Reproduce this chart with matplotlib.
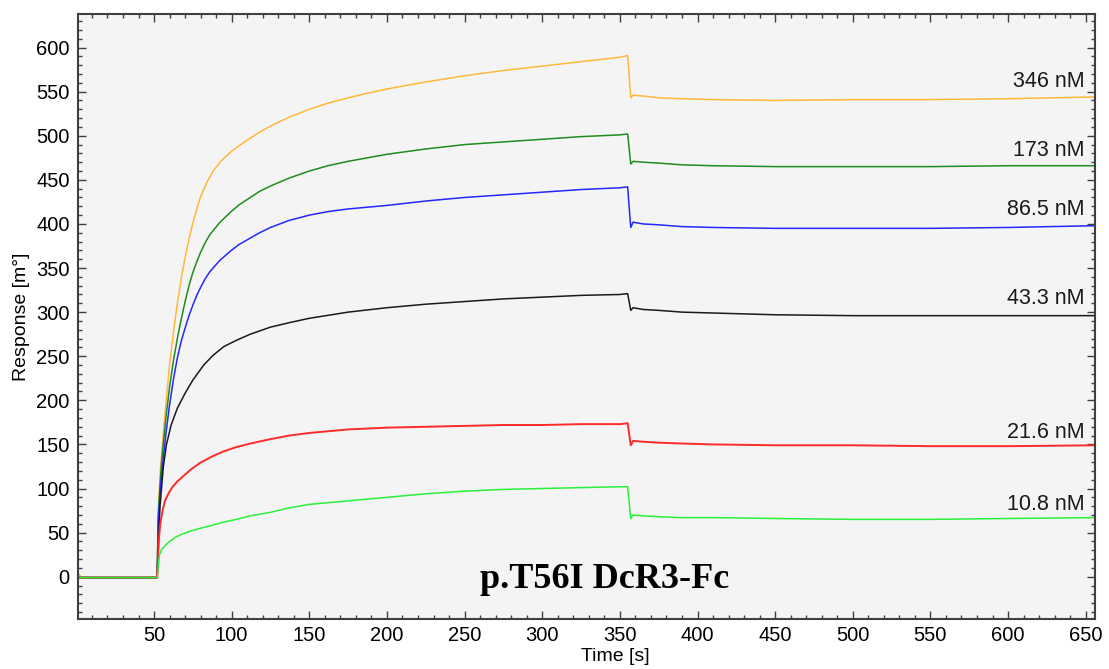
import matplotlib
matplotlib.use("Agg")
import matplotlib.pyplot as plt
from matplotlib.ticker import MultipleLocator

# Sensorgram traces: time [s] and response [m°] for each analyte concentration
t_346 = [1, 3, 8, 52.0, 52.7, 54, 56, 58, 60, 62.5, 65, 67.5, 70, 72.5, 75, 77.5, 80,
         84, 88, 93, 99, 105, 110, 117, 125, 137, 150, 162, 175, 187, 200, 225, 250,
         275, 300, 325, 350, 355, 357, 358.5, 365, 375, 390, 410, 450, 500, 550, 600,
         656]
r_346 = [5, -1, -1, -1, 72, 120, 163, 203, 240, 277, 310, 338, 362, 383, 401, 417, 431,
         447, 460, 471, 481, 489, 495, 503, 511, 521, 530, 537, 543, 548, 553, 561, 568,
         574, 579, 584, 589, 591, 543, 546, 545, 543, 542, 541, 540, 541, 541, 542,
         544]

t_173 = [1, 52.0, 52.7, 54, 55, 57.5, 60, 62.5, 65, 67.5, 70, 72.5, 75, 77.5, 80, 83,
         86, 92, 99, 105, 112, 118, 125, 137, 150, 162, 175, 200, 225, 250, 275, 300,
         325, 350, 355, 357, 358.5, 365, 375, 390, 410, 450, 500, 550, 600, 656]
r_173 = [-1, -1, 70, 108, 133, 178, 215, 245, 270, 292, 312, 330, 345, 357, 368, 379,
         388, 401, 413, 422, 430, 437, 443, 452, 460, 466, 471, 479, 485, 490, 493, 496,
         499, 501, 502, 468, 471, 470, 469, 467, 466, 465, 465, 465, 466, 466]

t_865 = [1, 52.0, 52.7, 54, 55, 57.5, 60, 62.5, 65, 67.5, 70, 72.5, 75, 77.5, 80, 83,
         86, 92, 99, 105, 112, 118, 125, 137, 150, 162, 175, 200, 225, 250, 275, 300,
         325, 350, 355, 357, 358.5, 365, 375, 390, 410, 450, 500, 550, 600, 656]
r_865 = [-1, -1, 60, 98, 118, 160, 195, 224, 248, 267, 282, 296, 308, 319, 328, 338,
         346, 358, 369, 377, 384, 390, 396, 404, 410, 414, 417, 421, 426, 430, 433, 436,
         439, 441, 442, 396, 402, 400, 399, 397, 396, 395, 395, 395, 396, 398]

t_433 = [1, 52.0, 52.8, 53.8, 56, 58, 61, 65, 70, 75, 82, 88, 95, 103, 112, 125,
         137, 150, 175, 200, 225, 250, 275, 300, 325, 350, 355, 357, 358.5, 365, 375,
         390, 410, 450, 500, 550, 600, 656]
r_433 = [-1, -1, 35, 79, 125, 150, 172, 191, 208, 223, 240, 251, 261, 268, 275, 283,
         288, 293, 300, 305, 309, 312, 315, 317, 319, 320, 321, 302, 305, 303, 302,
         300, 299, 297, 296, 296, 296, 296]

t_216 = [1, 52.0, 53, 54, 55.5, 57, 59.5, 62, 65, 68.8, 74, 79.6, 87, 94.6, 103, 112,
         125, 137, 150, 175, 200, 225, 250, 275, 300, 325, 350, 355, 357, 358.5, 365,
         375, 390, 410, 450, 500, 550, 600, 656]
r_216 = [-1, -1, 40, 60, 75, 86, 95, 102, 108, 114, 122, 129, 136, 142, 147, 151,
         156, 160, 163, 167, 169, 170, 171, 172, 172, 173, 173, 174, 149, 154, 153,
         152, 151, 150, 149, 149, 148, 148, 149]

t_108 = [1, 52.0, 52.7, 53.5, 55, 57.5, 60, 64, 69, 74, 80, 87, 95, 103, 112, 125,
         137, 150, 175, 200, 225, 250, 275, 300, 325, 350, 355, 357, 358.5, 365, 375,
         390, 410, 450, 500, 550, 600, 656]
r_108 = [-1, -1, 11, 25, 31, 36, 40, 45, 49, 52, 55, 58, 62, 65, 69, 73,
         78, 82, 86, 90, 94, 97, 99, 100, 101, 102, 102, 66, 70, 69, 68,
         67, 67, 66, 65, 65, 66, 67]

labels = ["346 nM", "173 nM", "86.5 nM", "43.3 nM", "21.6 nM", "10.8 nM"]
label_y = [561, 483, 416, 316, 164, 82]

series = [(t_346, r_346, "#ffb83d", 1.1),
          (t_173, r_173, "#1e8c1e", 1.1),
          (t_865, r_865, "#2626ff", 1.1),
          (t_433, r_433, "#1a1a1a", 1.1),
          (t_216, r_216, "#ff2a2a", 1.4),
          (t_108, r_108, "#2bf03a", 1.1)]

plt.rcParams["font.family"] = ["Liberation Sans", "DejaVu Sans"]

fig = plt.figure(figsize=(11.09, 6.69), dpi=100)
ax = fig.add_axes([0.0703, 0.0747, 0.9171, 0.9043])
ax.set_facecolor("#f4f4f4")

for t, r, c, w in series:
    ax.plot(t, r, color=c, lw=w, solid_joinstyle="round")

for text, y in zip(labels, label_y):
    ax.text(649, y, text, ha="right", va="center", fontsize=15.5, color="#1a1a1a")

ax.text(340, -3, "p.T56I DcR3-Fc", ha="center", va="center",
        fontsize=26, fontweight="bold", family="Liberation Serif", color="black")

ax.set_xlim(1, 656)
ax.set_ylim(-48, 638)
ax.xaxis.set_major_locator(MultipleLocator(50))
ax.xaxis.set_minor_locator(MultipleLocator(10))
ax.yaxis.set_major_locator(MultipleLocator(50))
ax.yaxis.set_minor_locator(MultipleLocator(10))

ax.tick_params(which="both", direction="in", top=True, right=True,
               color="#404040", width=1.0)
ax.tick_params(which="major", length=6, labelsize=14.5)
ax.tick_params(axis="y", which="major", pad=6)
ax.tick_params(axis="x", which="major", pad=5)
ax.tick_params(which="minor", length=3)
ax.tick_params(axis="x", labeltop=False)
ax.tick_params(axis="y", labelright=False)

for s in ax.spines.values():
    s.set_color("#404040")
    s.set_linewidth(1.5)

ax.set_xlabel("Time [s]", fontsize=14)
ax.set_ylabel("Response [m°]", fontsize=14)
ax.xaxis.set_label_coords(0.528, -0.048)
ax.yaxis.set_label_coords(-0.047, 0.5)

fig.savefig("out.png", dpi=100, facecolor="white")
